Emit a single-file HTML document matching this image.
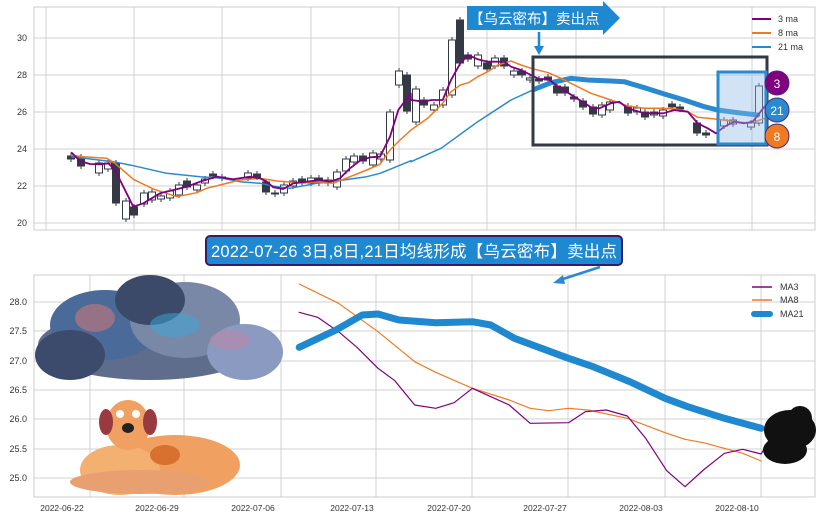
<!DOCTYPE html>
<html><head><meta charset="utf-8"><style>
body{margin:0;background:#fff;width:822px;height:520px;overflow:hidden}
svg text{font-family:"Liberation Sans","Noto Sans CJK SC",sans-serif}
</style></head><body>
<svg id="s" width="822" height="520" xmlns="http://www.w3.org/2000/svg">
<rect width="822" height="520" fill="#fff"/>
<g id="grid" stroke="#d0d0d0" stroke-width="1"></g>
<rect x="34" y="7" width="781" height="223" fill="none" stroke="#ccc"/>
<rect x="34" y="275" width="781" height="222" fill="none" stroke="#ccc"/>
<g id="lab" font-size="9" fill="#333"></g>
<g id="candles"></g>
<g id="lines" fill="none" stroke-linejoin="round" stroke-linecap="round"></g>
<rect x="533" y="57" width="234" height="88" fill="none" stroke="#333a44" stroke-width="3"/>
<rect x="718" y="72" width="48" height="72" fill="rgba(140,185,230,0.4)" stroke="#2a8ad0" stroke-width="3"/>
<circle cx="777" cy="83" r="12" fill="#800080" stroke="#4a2a80"/><text x="777" y="88" font-size="12" fill="#fff" text-anchor="middle">3</text>
<circle cx="777" cy="110" r="12" fill="#2a8ad0" stroke="#4a2a80"/><text x="777" y="115" font-size="12" fill="#fff" text-anchor="middle">21</text>
<circle cx="777" cy="136" r="12" fill="#f07a20" stroke="#4a2a80"/><text x="777" y="141" font-size="12" fill="#fff" text-anchor="middle">8</text>
<polygon points="467,6 603,6 603,1 620,18 603,35 603,30 467,30" fill="#1e88d0"/>
<text x="469" y="24" font-size="14.5" fill="#fff">【乌云密布】卖出点</text>
<line x1="539" y1="32" x2="539" y2="48" stroke="#1e88d0" stroke-width="2.5"/>
<polygon points="534,46 544,46 539,55" fill="#1e88d0"/>
<g font-size="9" fill="#333">
<line x1="752" y1="19" x2="771" y2="19" stroke="#800080" stroke-width="2"/><text x="778" y="22">3 ma</text>
<line x1="752" y1="33" x2="771" y2="33" stroke="#f07a20" stroke-width="2"/><text x="778" y="36">8 ma</text>
<line x1="752" y1="47" x2="771" y2="47" stroke="#2a8ad0" stroke-width="2"/><text x="778" y="50">21 ma</text>
</g>
<rect x="206" y="236" width="416" height="29" rx="4" fill="#1e88d0" stroke="#3a1a6a" stroke-width="2"/>
<text x="211" y="257" font-size="16.5" fill="#fff" textLength="406">2022-07-26 3日,8日,21日均线形成【乌云密布】卖出点</text>
<line x1="600" y1="267" x2="560" y2="280" stroke="#2a8ad0" stroke-width="2.5"/>
<polygon points="553,283 563,275 565,284" fill="#2a8ad0"/>
<g font-size="9" fill="#333">
<line x1="752" y1="287" x2="772" y2="287" stroke="#800080" stroke-width="1.5"/><text x="780" y="290">MA3</text>
<line x1="752" y1="300" x2="772" y2="300" stroke="#f07a20" stroke-width="1.5"/><text x="780" y="303">MA8</text>
<line x1="754" y1="314" x2="770" y2="314" stroke="#1e88d0" stroke-width="6" stroke-linecap="round"/><text x="780" y="317">MA21</text>
</g>
<g>
<ellipse cx="150" cy="345" rx="112" ry="35" fill="#5f6d8c"/>
<ellipse cx="105" cy="325" rx="55" ry="35" fill="#4a6a9a"/>
<ellipse cx="185" cy="320" rx="55" ry="38" fill="#7a88a8"/>
<ellipse cx="150" cy="300" rx="35" ry="25" fill="#3c4a6a"/>
<ellipse cx="245" cy="352" rx="38" ry="28" fill="#8a9ac0"/>
<ellipse cx="70" cy="355" rx="35" ry="25" fill="#3c4a6c"/>
<ellipse cx="95" cy="318" rx="20" ry="14" fill="#e07a70" opacity=".5"/>
<ellipse cx="175" cy="325" rx="25" ry="12" fill="#38a8d8" opacity=".5"/>
<ellipse cx="230" cy="340" rx="20" ry="10" fill="#d080a0" opacity=".4"/>
</g>
<g>
<ellipse cx="175" cy="465" rx="65" ry="30" fill="#f0a060"/>
<ellipse cx="120" cy="470" rx="40" ry="25" fill="#f4b070"/>
<ellipse cx="140" cy="482" rx="70" ry="12" fill="#e8a070"/>
<ellipse cx="128" cy="425" rx="22" ry="25" fill="#f0a060"/>
<ellipse cx="106" cy="422" rx="7" ry="13" fill="#9a3a40"/>
<ellipse cx="150" cy="422" rx="7" ry="13" fill="#9a3a40"/>
<circle cx="120" cy="414" r="4" fill="#fff"/><circle cx="136" cy="414" r="4" fill="#fff"/>
<ellipse cx="128" cy="428" rx="6" ry="5" fill="#222"/>
<ellipse cx="165" cy="455" rx="15" ry="10" fill="#d87030"/>
</g>
<g fill="#111">
<ellipse cx="790" cy="430" rx="26" ry="20"/>
<ellipse cx="785" cy="450" rx="22" ry="14"/>
<circle cx="800" cy="418" r="12"/>
</g>
</svg>
<script>
var NS="http://www.w3.org/2000/svg";
function el(p,t,a){var e=document.createElementNS(NS,t);for(var k in a)e.setAttribute(k,a[k]);document.getElementById(p).appendChild(e);return e;}
[38,75,112,149,186,223].forEach(function(y){el('grid','line',{x1:34,x2:815,y1:y,y2:y});});
[46,134,222,311,399,487,576,664,752].forEach(function(x){el('grid','line',{x1:x,x2:x,y1:7,y2:230});});
[302,331,361,390,419,449,478].forEach(function(y){el('grid','line',{x1:34,x2:815,y1:y,y2:y});});
[90,184,281,376,472,568,665,761].forEach(function(x){el('grid','line',{x1:x,x2:x,y1:275,y2:497});});
var tl=[["30",38],["28",75],["26",112],["24",149],["22",186],["20",223]];
tl.forEach(function(t){var e=el('lab','text',{x:27,y:t[1]+3,'text-anchor':'end'});e.textContent=t[0];});
var bl=[["28.0",302],["27.5",331],["27.0",361],["26.5",390],["26.0",419],["25.5",449],["25.0",478]];
bl.forEach(function(t){var e=el('lab','text',{x:27,y:t[1]+3,'text-anchor':'end'});e.textContent=t[0];});
var dl=[["2022-06-22",62],["2022-06-29",157],["2022-07-06",253],["2022-07-13",352],["2022-07-20",449],["2022-07-27",545],["2022-08-03",641],["2022-08-10",737]];
dl.forEach(function(t){var e=el('lab','text',{x:t[1],y:511,'text-anchor':'middle','font-size':8.5});e.textContent=t[0];});
var c=[[71,156,159,1],[81,157,166,1],[99,163,173,0],[108,163,169,0],[116,163,203,1],[126,201,219,0],[134,207,215,1],[144,193,204,0],[152,192,200,0],[161,196,199,0],[170,191,198,0],[179,185,195,0],[187,181,187,1],[197,185,190,0],[205,179,183,0],[213,174,176,1],[222,177,178,1],[248,173,178,0],[257,174,177,1],[266,182,192,1],[275,193,194,1],[284,185,193,0],[293,181,186,0],[302,179,183,1],[311,178,183,0],[319,178,183,1],[328,180,183,0],[337,172,187,0],[346,159,171,0],[354,156,162,0],[363,156,161,1],[373,153,165,0],[381,154,159,0],[390,112,160,0],[399,71,85,0],[407,75,111,1],[416,89,122,0],[424,100,105,1],[434,105,110,0],[443,90,105,0],[452,40,95,0],[460,20,63,1],[468,55,59,1],[478,55,66,0],[487,63,69,1],[495,58,66,0],[504,58,66,1],[514,71,75,0],[522,71,75,1],[530,78,80,0],[539,79,81,1],[548,77,80,1],[557,86,93,1],[565,87,93,1],[574,97,99,1],[583,101,107,1],[593,107,114,1],[602,105,115,0],[610,102,110,0],[628,106,113,1],[637,108,112,0],[645,112,117,1],[654,112,115,0],[663,110,116,0],[672,104,107,1],[680,107,109,1],[697,123,133,1],[706,133,135,1],[724,120,126,0],[733,120,124,0],[751,123,127,0],[759,86,123,0]];
c.forEach(function(d){
 el('candles','line',{x1:d[0],x2:d[0],y1:d[1]-3,y2:d[2]+3,stroke:'#333a44','stroke-width':1});
 el('candles','rect',{x:d[0]-3.5,y:d[1],width:7,height:Math.max(1,d[2]-d[1]),fill:d[3]?'#333a44':'#fff',stroke:'#333a44','stroke-width':1});
});
function P(a1,a2){var p=[];a1.forEach(function(q){p.push([q[0]/3,q[1]/3]);});(a2||[]).forEach(function(q){p.push([411+q[0]/3,q[1]/3]);});return p;}
function B(a){return a.map(function(q){return [q[0]/1.905,260+q[1]/3];});}
function line(pts,col,w){el('lines','polyline',{points:pts.map(function(q){return q[0].toFixed(1)+','+q[1].toFixed(1);}).join(' '),stroke:col,'stroke-width':w});}
line(P([[215,470],[340,485],[400,497],[500,520],[600,530],[667,535],[720,545],[780,550],[830,560],[870,565],[950,550],[1030,540],[1100,530],[1140,520],[1170,508],[1233,482]],[[0,485],[90,445],[200,365],[300,300],[370,268]]),'#2a8ad0',1.5);
line(P([],[[370,268],[420,248],[480,235],[530,240],[600,243],[640,245],[700,263],[760,282],[820,300],[880,320],[920,330],[980,338],[1040,345]]),'#2a8ad0',5);
line(P([[215,466],[250,470],[320,475],[345,490],[400,538],[460,567],[530,590],[590,578],[620,565],[660,555],[720,540],[780,535],[830,543],[900,548],[960,545],[1000,550],[1050,530],[1100,510],[1140,493],[1170,450],[1200,420],[1233,390]],[[0,390],[50,355],[95,310],[120,275],[148,255],[172,248],[200,230],[230,215],[260,195],[300,183],[330,195],[360,205],[412,218],[450,235],[490,255],[540,280],[600,300],[650,318],[700,325],[757,325],[800,328],[830,335],[860,352],[920,358],[970,365],[1020,370],[1060,355]]),'#f07a20',1.5);
line(P([[215,458],[240,483],[270,492],[300,493],[325,490],[345,510],[400,620],[430,610],[480,580],[560,560],[600,545],[650,530],[700,538],[750,530],[780,535],[800,545],[820,562],[850,567],[880,550],[920,545],[960,540],[990,545],[1020,535],[1050,505],[1080,482],[1110,472],[1140,470],[1170,410],[1195,330],[1232,280]],[[0,300],[40,305],[60,300],[95,300],[120,240],[148,190],[172,165],[200,178],[230,185],[260,185],[280,185],[300,200],[330,210],[360,225],[385,237],[412,237],[438,258],[490,290],[540,322],[565,325],[600,310],[625,305],[650,325],[700,340],[757,340],[790,330],[830,335],[860,370],[890,385],[915,400],[940,380],[970,365],[1000,370],[1025,365],[1045,340],[1060,320]]),'#800080',1.8);
line(B([[570,72],[645,130],[720,215],[790,305],[830,337],[900,385],[970,420],[1010,445],[1045,452],[1083,445],[1120,450],[1195,475],[1267,518],[1305,538],[1340,548],[1415,580],[1450,603]]),'#f07a20',1.2);
line(B([[570,157],[605,172],[645,215],[680,262],[720,325],[752,362],[790,435],[830,445],[865,428],[900,385],[935,410],[970,435],[1010,490],[1083,488],[1115,455],[1155,450],[1195,468],[1230,535],[1270,632],[1305,680],[1340,630],[1380,580],[1415,568],[1450,582],[1465,540]]),'#800080',1.2);
line(B([[570,262],[640,210],[690,165],[720,162],[760,180],[830,188],[900,185],[935,195],[980,235],[1083,295],[1130,320],[1200,365],[1267,415],[1310,440],[1380,475],[1450,505]]),'#1e88d0',7);
</script>
</body></html>
